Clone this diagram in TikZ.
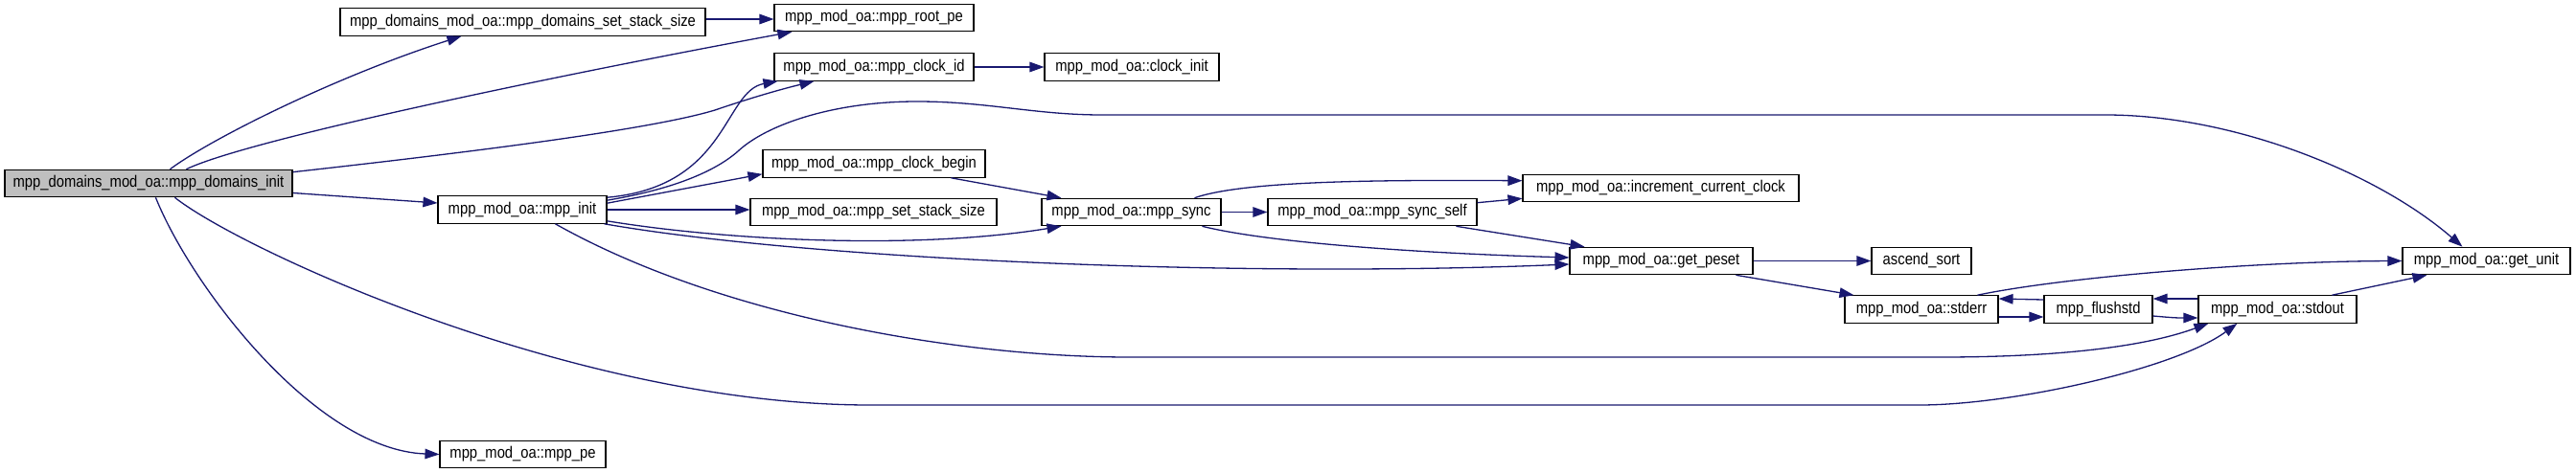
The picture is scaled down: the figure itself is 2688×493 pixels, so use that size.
\documentclass[tikz,border=0pt]{standalone}
\usepackage{fontspec}
\setmainfont{Liberation Sans}[FakeStretch=0.87]
\usetikzlibrary{arrows.meta,calc}
\definecolor{edgeblue}{HTML}{191970}
\definecolor{rootgray}{HTML}{BFBFBF}
\begin{document}
\begin{tikzpicture}[x=1pt,y=-1pt,
  fnode/.style={draw=black,line width=1.1pt,fill=white,minimum height=28.5pt,inner sep=0pt,anchor=center,
    font=\fontsize{17}{18}\selectfont},
  rootnode/.style={fnode,fill=rootgray},
  call/.style={draw=edgeblue,line width=1.3pt,-{Triangle[length=15pt,width=10.5pt]}}]
\useasboundingbox (0,0) rectangle (2688,493);
\fill[white] (0,0) rectangle (2688,493);
% nodes
\node[rootnode,minimum width=300pt] (dinit) at (155,191.5) {mpp\_domains\_mod\_oa::mpp\_domains\_init};
\node[fnode,minimum width=381pt] (dsss) at (545.5,23) {mpp\_domains\_mod\_oa::mpp\_domains\_set\_stack\_size};
\node[fnode,minimum width=208pt] (rootpe) at (912,18.5) {mpp\_mod\_oa::mpp\_root\_pe};
\node[fnode,minimum width=208pt] (clockid) at (912,70) {mpp\_mod\_oa::mpp\_clock\_id};
\node[fnode,minimum width=182pt] (clockinit) at (1181,70) {mpp\_mod\_oa::clock\_init};
\node[fnode,minimum width=176pt] (mppinit) at (545,219) {mpp\_mod\_oa::mpp\_init};
\node[fnode,minimum width=232pt] (clockbegin) at (912,171) {mpp\_mod\_oa::mpp\_clock\_begin};
\node[fnode,minimum width=257pt] (setstack) at (911.5,221.5) {mpp\_mod\_oa::mpp\_set\_stack\_size};
\node[fnode,minimum width=187pt] (sync) at (1180.5,221.5) {mpp\_mod\_oa::mpp\_sync};
\node[fnode,minimum width=218pt] (syncself) at (1432,221.5) {mpp\_mod\_oa::mpp\_sync\_self};
\node[fnode,minimum width=288pt] (incr) at (1733,196.5) {mpp\_mod\_oa::increment\_current\_clock};
\node[fnode,minimum width=191pt] (getpeset) at (1733.5,272.5) {mpp\_mod\_oa::get\_peset};
\node[fnode,minimum width=104pt] (ascend) at (2005,272.5) {ascend\_sort};
\node[fnode,minimum width=175pt] (getunit) at (2594.5,272.5) {mpp\_mod\_oa::get\_unit};
\node[fnode,minimum width=160pt] (stderr) at (2005,323) {mpp\_mod\_oa::stderr};
\node[fnode,minimum width=113pt] (flushstd) at (2189.5,323) {mpp\_flushstd};
\node[fnode,minimum width=165pt] (stdout) at (2376.5,323) {mpp\_mod\_oa::stdout};
\node[fnode,minimum width=173pt] (mpppe) at (545.5,474.5) {mpp\_mod\_oa::mpp\_pe};
% edges from mpp_domains_init
\draw[call] ($(dinit.north west)+(173,0)$) .. controls (220,145) and (350,80) .. ($(dsss.south west)+(127,0)$);
\draw[call] ($(dinit.north west)+(190,0)$) .. controls (260,145) and (600,75) .. ($(rootpe.south west)+(19,0)$);
\draw[call] ($(dinit.north east)+(0,3)$) .. controls (500,158) and (680,135) .. (746,115) .. controls (790,100) and (820,92) .. ($(clockid.south west)+(42,0)$);
\draw[call] ($(dinit.east)+(0,10)$) -- ($(mppinit.west)+(0,-7)$);
\draw[call] ($(dinit.south west)+(178,0)$) .. controls (250,260) and (600,423) .. (908,423) -- (2003,423) .. controls (2100,423) and (2270,385) .. ($(stdout.south west)+(41,0)$);
\draw[call] ($(dinit.south west)+(158,0)$) .. controls (200,300) and (330,470) .. (mpppe.west);
\draw[call] ($(dsss.east)+(0,-3)$) -- ($(rootpe.west)+(0,1.5)$);
% edges from mpp_init
\draw[call] ($(mppinit.north east)+(0,2)$) .. controls (760,195) and (755,95) .. ($(clockid.south west)+(4,0)$);
\draw[call] ($(mppinit.north east)+(0,5)$) .. controls (700,198) and (745,180) .. (770,158) .. controls (800,130) and (870,106) .. (957,106) .. controls (1030,106) and (1080,120) .. (1150,120) -- (2197,120) .. controls (2330,120) and (2480,180) .. ($(getunit.north west)+(63,0)$);
\draw[call] ($(mppinit.north east)+(0,8)$) -- ($(clockbegin.south west)+(0,-4)$);
\draw[call] (mppinit.east) -- ($(setstack.west)+(0,-2.5)$);
\draw[call] ($(mppinit.south east)+(0,-3)$) .. controls (750,250) and (950,262) .. ($(sync.south west)+(21,0)$);
\draw[call] ($(mppinit.south east)+(-3,0)$) .. controls (850,272) and (1300,290) .. ($(getpeset.west)+(0,3.5)$);
\draw[call] ($(mppinit.south west)+(123,0)$) .. controls (750,330) and (1000,373) .. (1179,373) -- (2025,373) .. controls (2130,373) and (2230,365) .. ($(stdout.south west)+(11,0)$);
% other edges
\draw[call] (clockid.east) -- (clockinit.west);
\draw[call] ($(clockbegin.south west)+(197,0)$) -- ($(sync.north west)+(21,0)$);
\draw[call] ($(sync.north west)+(160,0)$) .. controls (1300,188) and (1450,188) .. ($(incr.north west)+(0,7)$);
\draw[call] (sync.east) -- (syncself.west);
\draw[call] ($(sync.south west)+(168,0)$) .. controls (1330,255) and (1500,265) .. ($(getpeset.west)+(0,-3.5)$);
\draw[call] ($(syncself.north east)+(0,5)$) -- ($(incr.south west)+(0,-4)$);
\draw[call] ($(syncself.south west)+(197,0)$) -- ($(getpeset.north west)+(16,0)$);
\draw[call] (getpeset.east) -- (ascend.west);
\draw[call] ($(getpeset.south west)+(174,0)$) -- ($(stderr.north west)+(10,0)$);
\draw[call] ($(stderr.north west)+(139,0)$) .. controls (2150,290) and (2350,273) .. (getunit.west);
\draw[call] ($(stderr.east)+(0,8)$) -- ($(flushstd.west)+(0,8)$);
\draw[call] ($(flushstd.west)+(0,-10)$) -- ($(stderr.east)+(0,-11)$);
\draw[call] ($(flushstd.east)+(0,7)$) .. controls (2270,332) .. ($(stdout.west)+(0,9)$);
\draw[call] ($(stdout.west)+(0,-11)$) -- ($(flushstd.east)+(0,-11)$);
\draw[call] ($(stdout.north west)+(140,0)$) -- ($(getunit.south west)+(26,0)$);
\end{tikzpicture}
\end{document}
